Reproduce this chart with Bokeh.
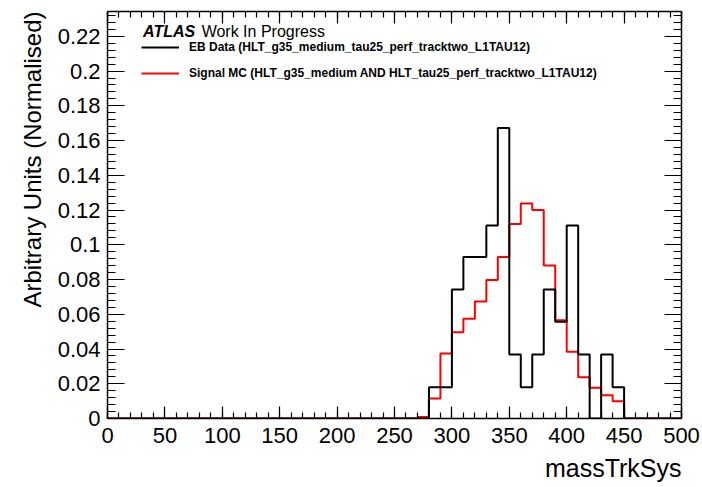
from bokeh.plotting import figure
from bokeh.models import (FixedTicker, LinearAxis, Label, Legend, LegendItem, Range1d,
                          Title, CustomJSTickFormatter)
from bokeh.embed import file_html
from bokeh.resources import INLINE

# ---- data -------------------------------------------------------------
bin_edges = list(range(0, 510, 10))  # 50 bins of width 10, 0..500

eb_data = [0.0] * 28 + [
    0.0180, 0.0180, 0.0743, 0.0929, 0.0929, 0.1111, 0.1673, 0.0368,
    0.0180, 0.0368, 0.0743, 0.0557, 0.1111, 0.0368, 0.0, 0.0368, 0.0180,
] + [0.0] * 5

signal_mc = [0.0] * 27 + [
    0.0008, 0.0115, 0.0374, 0.0497, 0.0574, 0.0674, 0.0798, 0.0929, 0.1119,
    0.1238, 0.1201, 0.0881, 0.0566, 0.0384, 0.0238, 0.0177, 0.0134, 0.0100,
] + [0.0] * 5

x_major = list(range(0, 501, 50))
x_minor = list(range(0, 501, 10))
y_major = [round(0.02 * i, 2) for i in range(12)]
y_minor = [round(0.004 * i, 3) for i in range(59)]

FONT = "Liberation Sans"

# ---- figure -----------------------------------------------------------
p = figure(width=702, height=487, x_range=Range1d(0, 500), y_range=Range1d(0, 0.2343),
           output_backend="svg", toolbar_location=None,
           min_border_left=107, min_border_right=21, min_border_top=11, min_border_bottom=69)
p.grid.visible = False
p.outline_line_color = None
p.background_fill_color = "white"
p.border_fill_color = "white"

red = p.step(x=bin_edges, y=signal_mc + [signal_mc[-1]], mode="after", line_color="#ff0000", line_width=2)
black = p.step(x=bin_edges, y=eb_data + [eb_data[-1]], mode="after", line_color="black", line_width=2)

def style(ax, major_len, minor_len, show_labels):
    ax.axis_line_color = "black"
    ax.axis_line_width = 1.5
    ax.major_tick_line_color = "black"
    ax.minor_tick_line_color = "black"
    ax.major_tick_line_width = 1.2
    ax.minor_tick_line_width = 1.2
    ax.major_tick_in = major_len
    ax.major_tick_out = 0
    ax.minor_tick_in = minor_len
    ax.minor_tick_out = 0
    if show_labels:
        ax.major_label_text_font = FONT
        ax.major_label_text_font_size = "22px"
        ax.major_label_text_color = "black"
    else:
        ax.formatter = CustomJSTickFormatter(code="return ''")
        ax.major_label_text_font_size = "1px"
        ax.major_label_standoff = 0

xb = p.xaxis[0]
xb.ticker = FixedTicker(ticks=x_major, minor_ticks=x_minor)
style(xb, 12, 6, True)
xb.major_label_standoff = 9

yl = p.yaxis[0]
yl.ticker = FixedTicker(ticks=y_major, minor_ticks=y_minor)
style(yl, 17, 8, True)
yl.major_label_standoff = 7
yl.major_label_overrides = {0.0: "0", 0.1: "0.1", 0.2: "0.2"}

xt = LinearAxis(ticker=FixedTicker(ticks=x_major, minor_ticks=x_minor))
style(xt, 12, 6, False)
p.add_layout(xt, "above")

yr = LinearAxis(ticker=FixedTicker(ticks=y_major, minor_ticks=y_minor))
style(yr, 17, 8, False)
p.add_layout(yr, "right")

# ---- axis titles (ROOT style: aligned to the end of the axis) ---------
xtitle = Title(text="massTrkSys", align="right", text_font=FONT, text_font_size="25px",
               text_font_style="normal", text_color="black", standoff=12)
p.add_layout(xtitle, "below")
ytitle = Title(text="Arbitrary Units (Normalised)", align="right", text_font=FONT,
               text_font_size="24px", text_font_style="normal", text_color="black", standoff=17)
p.add_layout(ytitle, "left")

# ---- header texts -----------------------------------------------------
p.add_layout(Label(x=31.0, y=0.2228, text="ATLAS", text_align="left", text_baseline="middle",
                   text_font=FONT, text_font_size="16px", text_font_style="bold italic", text_color="black"))
p.add_layout(Label(x=82.0, y=0.2228, text="Work In Progress", text_align="left", text_baseline="middle",
                   text_font=FONT, text_font_size="16px", text_color="black"))

legend = Legend(items=[
    LegendItem(label="EB Data (HLT_g35_medium_tau25_perf_tracktwo_L1TAU12)", renderers=[black]),
    LegendItem(label="Signal MC (HLT_g35_medium AND HLT_tau25_perf_tracktwo_L1TAU12)", renderers=[red]),
], location=(34, 335))
legend.padding = 0
legend.margin = 0
legend.border_line_alpha = 0
legend.background_fill_alpha = 0
legend.glyph_width = 38
legend.glyph_height = 20
legend.label_height = 20
legend.spacing = 6
legend.label_standoff = 10
legend.label_text_font = FONT
legend.label_text_font_size = "12px"
legend.label_text_font_style = "bold"
legend.label_text_color = "black"
p.add_layout(legend, "center")

open("out.html", "w").write(file_html(p, INLINE))
